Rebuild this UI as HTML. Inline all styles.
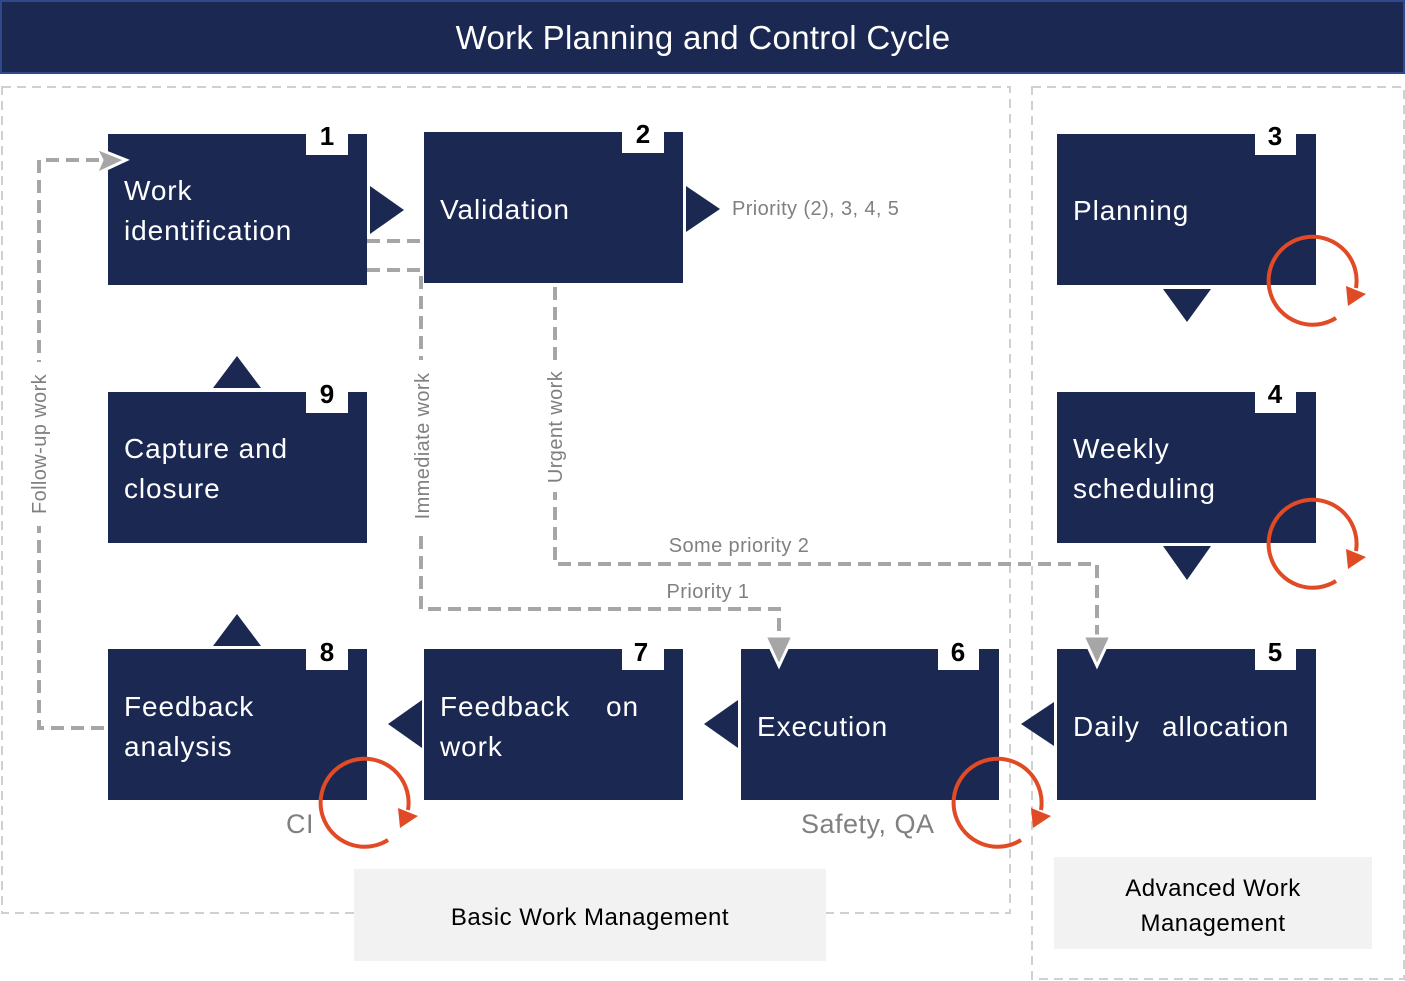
<!DOCTYPE html>
<html><head><meta charset="utf-8"><style>
html,body{margin:0;padding:0;background:#fff;}
svg{display:block;font-family:"Liberation Sans",sans-serif;}
</style></head><body>
<svg width="1405" height="981" viewBox="0 0 1405 981" xmlns="http://www.w3.org/2000/svg">
<rect x="1" y="1" width="1403" height="72" fill="#1a2852" stroke="#2f4a8a" stroke-width="2"/>
<text x="703" y="49" fill="#fff" font-size="33" text-anchor="middle" letter-spacing="0.3">Work Planning and Control Cycle</text>
<rect x="2" y="87" width="1008" height="826" fill="none" stroke="#d0d0d0" stroke-width="2" stroke-dasharray="9 6"/>
<rect x="1032" y="87" width="372" height="892" fill="none" stroke="#d0d0d0" stroke-width="2" stroke-dasharray="9 6"/>
<rect x="354" y="869" width="472" height="92" fill="#f2f2f2"/>
<text x="590" y="925" font-size="24" text-anchor="middle" fill="#000" letter-spacing="0.5">Basic Work Management</text>
<rect x="1054" y="857" width="318" height="92" fill="#f2f2f2"/>
<text x="1213" y="896" font-size="24" text-anchor="middle" fill="#000" letter-spacing="0.5">Advanced Work</text>
<text x="1213" y="931" font-size="24" text-anchor="middle" fill="#000" letter-spacing="0.5">Management</text>

<g fill="#1a2852">
<rect x="108" y="134" width="259" height="151"/>
<rect x="424" y="132" width="259" height="151"/>
<rect x="1057" y="134" width="259" height="151"/>
<rect x="108" y="392" width="259" height="151"/>
<rect x="1057" y="392" width="259" height="151"/>
<rect x="108" y="649" width="259" height="151"/>
<rect x="424" y="649" width="259" height="151"/>
<rect x="741" y="649" width="258" height="151"/>
<rect x="1057" y="649" width="259" height="151"/>
<polygon points="370,186 404,210 370,234"/>
<polygon points="686,186 720,209 686,232"/>
<polygon points="1163,289 1211,289 1187,322"/>
<polygon points="1163,546 1211,546 1187,580"/>
<polygon points="213,388 261,388 237,356"/>
<polygon points="213,646 261,646 237,614"/>
<polygon points="422,700 422,748 388,724"/>
<polygon points="738,700 738,748 704,724"/>
<polygon points="1054,702 1054,746 1021,724"/>
</g>
<g fill="#fff">
<rect x="306" y="126" width="42" height="29"/>
<rect x="622" y="124" width="42" height="29"/>
<rect x="1255" y="126" width="41" height="29"/>
<rect x="306" y="384" width="42" height="29"/>
<rect x="1255" y="384" width="41" height="29"/>
<rect x="306" y="641" width="42" height="29"/>
<rect x="622" y="641" width="42" height="29"/>
<rect x="938" y="641" width="41" height="29"/>
<rect x="1255" y="641" width="41" height="29"/>
</g>
<g font-size="26" font-weight="bold" fill="#000" text-anchor="middle">
<text x="327" y="145">1</text><text x="643" y="143">2</text><text x="1275" y="145">3</text>
<text x="327" y="403">9</text><text x="1275" y="403">4</text>
<text x="327" y="661">8</text><text x="641" y="661">7</text><text x="958" y="661">6</text><text x="1275" y="661">5</text>
</g>
<g font-size="28" fill="#fff" letter-spacing="0.9">
<text x="124" y="200">Work</text><text x="124" y="240">identification</text>
<text x="440" y="219">Validation</text>
<text x="1073" y="220">Planning</text>
<text x="124" y="458">Capture and</text><text x="124" y="498">closure</text>
<text x="1073" y="458">Weekly</text><text x="1073" y="498">scheduling</text>
<text x="124" y="716">Feedback</text><text x="124" y="756">analysis</text>
<text x="440" y="716">Feedback</text><text x="606" y="716">on</text><text x="440" y="756">work</text>
<text x="757" y="736">Execution</text>
<text x="1073" y="736">Daily</text><text x="1162" y="736">allocation</text>
</g>

<g fill="none" stroke="#a6a6a6" stroke-width="4" stroke-dasharray="13 7">
<path d="M104,728 H39 V160 H100"/>
<path d="M367,241 H424"/>
<path d="M367,270 H421 V609 H779 V640"/>
<path d="M555,287 V564 H1097 V640"/>
</g>
<g fill="#a6a6a6" stroke="#fff" stroke-width="3">
<polygon points="96,148 126,160 96,174 102,160"/>
<polygon points="765,636 793,636 779,666"/>
<polygon points="1083,636 1111,636 1097,666"/>
</g>
<g font-size="20" fill="#808080" letter-spacing="0.4">
<rect x="28" y="362" width="22" height="164" fill="#fff"/>
<text transform="translate(46,444) rotate(-90)" text-anchor="middle">Follow-up work</text>
<rect x="410" y="360" width="22" height="172" fill="#fff"/>
<text transform="translate(429,446) rotate(-90)" text-anchor="middle">Immediate work</text>
<rect x="544" y="360" width="22" height="132" fill="#fff"/>
<text transform="translate(562,427) rotate(-90)" text-anchor="middle">Urgent work</text>
<text x="739" y="552" text-anchor="middle">Some priority 2</text>
<text x="708" y="598" text-anchor="middle">Priority 1</text>
<text x="732" y="215">Priority (2), 3, 4, 5</text>
</g>
<g font-size="27" fill="#808080" letter-spacing="0.5">
<text x="286" y="833">CI</text>
<text x="801" y="833">Safety, QA</text>
</g>

<g fill="none" stroke="#e04a25" stroke-width="4">
<path d="M1336,318 A44,44 0 1 1 1356,288"/>
<path d="M1336,581 A44,44 0 1 1 1356,551"/>
<path d="M388,840 A44,44 0 1 1 408,810"/>
<path d="M1021,840 A44,44 0 1 1 1041,810"/>
</g>
<g fill="#e04a25">
<polygon points="1346,286 1366,294 1348,306"/>
<polygon points="1346,549 1366,557 1348,569"/>
<polygon points="398,808 418,816 400,828"/>
<polygon points="1031,808 1051,816 1033,828"/>
</g>
</svg>
</body></html>
